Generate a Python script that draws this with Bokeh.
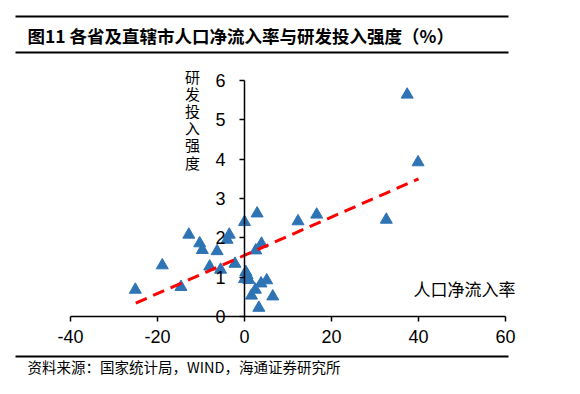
from bokeh.plotting import figure
from bokeh.models import Label, BoxAnnotation, FixedTicker, ColumnDataSource, Range1d, LinearAxis
from bokeh.embed import file_html
from bokeh.resources import INLINE

# data
net_inflow = [-25.1, -18.9, -14.6, -12.8, -10.3, -9.7, -8.0, -6.3, -5.5, -4.0, -3.5, -2.2,
              0.0, 0.3, 0.0, 1.0, 0.6, 1.6, 2.5, 2.6, 2.9, 3.3, 3.9, 3.8, 5.1, 6.5,
              12.3, 16.6, 32.6, 37.4, 39.9]
rd_intensity = [0.68, 1.30, 0.75, 2.08, 1.86, 1.69, 1.27, 1.66, 1.19, 1.95, 2.08, 1.34,
                2.40, 1.13, 0.95, 0.93, 1.05, 0.53, 0.68, 1.68, 2.62, 0.22, 1.85, 0.84, 0.92, 0.51,
                2.42, 2.59, 2.46, 5.64, 3.92]
trend_x = [-25, 40]
trend_y = [0.34, 3.50]
x_ticks = [-40, -20, 0, 20, 40, 60]
x_tick_labels = ["-40", "-20", "0", "20", "40", "60"]
y_ticks = [0, 1, 2, 3, 4, 5, 6]
x_bounds = (-40, 60)
y_bounds = (0, 6)

title_text = "图11 各省及直辖市人口净流入率与研发投入强度（%）"
source_text = "资料来源：国家统计局，WIND，海通证券研究所"
x_title = "人口净流入率"
y_title = "研发投入强度"

CJK = "Noto Sans CJK SC"
W, H = 580, 394
# pixel layout of the plotting area
PX_L, PX_R = 70, 505      # x = -40 .. 60
PY_B, PY_T = 316, 80      # y = 0 .. 6
kx = (PX_R - PX_L) / (x_bounds[1] - x_bounds[0])
ky = (PY_B - PY_T) / (y_bounds[1] - y_bounds[0])


def px2x(px):
    return x_bounds[0] + (px - PX_L) / kx


def py2y(py):
    return y_bounds[0] + (PY_B - py) / ky


p = figure(width=W, height=H, output_backend="svg", toolbar_location=None,
           x_range=Range1d(px2x(0), px2x(W)), y_range=Range1d(py2y(H), py2y(0)),
           x_axis_location=None, y_axis_location=None,
           min_border=0, min_border_left=0, min_border_right=0,
           min_border_top=0, min_border_bottom=0)
p.outline_line_color = None
p.grid.visible = False
p.background_fill_color = "white"
p.border_fill_color = "white"

src = ColumnDataSource(dict(x=net_inflow, y=rd_intensity))
p.scatter("x", "y", source=src, marker="triangle", size=12, fill_color="#2e74b5",
          line_color="#2e74b5", line_width=1)
p.line(trend_x, trend_y, line_color="#ff0000", line_width=3, line_dash="12 7")

xax = LinearAxis(ticker=FixedTicker(ticks=x_ticks), fixed_location=0, bounds=x_bounds,
                 major_label_overrides={t: s for t, s in zip(x_ticks, x_tick_labels)})
yax = LinearAxis(ticker=FixedTicker(ticks=y_ticks), fixed_location=0, bounds=y_bounds)
for ax in (xax, yax):
    ax.axis_line_color = "black"
    ax.axis_line_width = 1.5
    ax.major_tick_line_color = "black"
    ax.major_tick_line_width = 1.5
    ax.major_tick_out = 5
    ax.major_tick_in = 0
    ax.minor_tick_line_color = None
    ax.major_label_text_font = "Liberation Sans"
    ax.major_label_text_font_size = "18px"
    ax.major_label_text_color = "black"
xax.major_label_standoff = 8
yax.major_label_standoff = 14
p.add_layout(xax, "below")
p.add_layout(yax, "left")

# axis titles
p.add_layout(Label(x=px2x(192), y=py2y(65), text="\n".join(y_title),
                   text_font=CJK, text_font_size="15px", text_align="center",
                   text_baseline="top", text_line_height=0.82, text_color="black"))
p.add_layout(Label(x=px2x(413), y=py2y(288), text=x_title,
                   text_font=CJK, text_font_size="17px", text_align="left",
                   text_baseline="middle", text_color="black"))

# title and source
p.add_layout(Label(x=px2x(27), y=py2y(35), text=title_text,
                   text_font=CJK, text_font_size="17.5px", text_font_style="bold",
                   text_align="left", text_baseline="middle", text_color="black"))
p.add_layout(Label(x=px2x(27), y=py2y(366), text=source_text,
                   text_font=CJK, text_font_size="14.5px", text_align="left",
                   text_baseline="middle", text_color="black"))

for py in (16, 52, 356):
    p.add_layout(BoxAnnotation(left=px2x(15), right=px2x(508), top=py2y(py - 1), bottom=py2y(py + 1),
                               fill_color="black", fill_alpha=1, line_color=None))

open("out.html", "w").write(file_html(p, INLINE))
